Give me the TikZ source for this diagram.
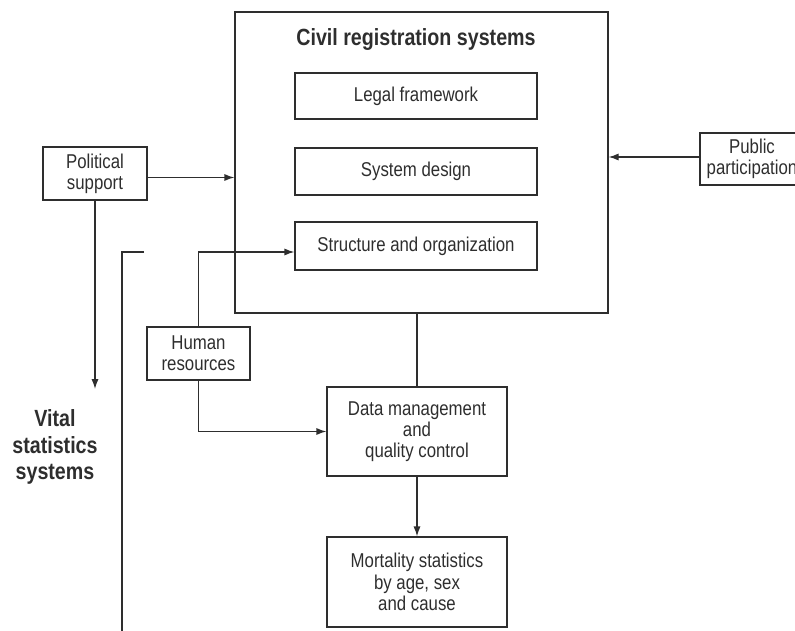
\documentclass[tikz,border=0pt]{standalone}
\usepackage{fontspec}
\setmainfont{Liberation Sans}[FakeStretch=0.84]
\usetikzlibrary{arrows.meta,calc}
\definecolor{inkgray}{HTML}{2E2E2E}

\begin{document}
\begin{tikzpicture}[x=0.5pt,y=-0.5pt, line width=0.65pt, color=inkgray,
  >={Latex[length=5pt,width=3.6pt]},
  box/.style={draw, align=center, inner sep=0pt, font=\fontsize{10}{10.6}\selectfont},
  heading/.style={align=center, font=\bfseries\fontsize{11.7}{13.3}\selectfont}]
\useasboundingbox (0,0) rectangle (795,630);

\node[box, minimum width=186.5pt, minimum height=150.5pt] (civil) at (421.5,162.5) {};
\node[heading, anchor=base] (title) at (416,46) {Civil registration systems};
\node[box, minimum width=121pt, minimum height=23pt] (legal) at (416,96) {Legal framework};
\node[box, minimum width=121pt, minimum height=23.5pt] (design) at (416,171.5) {System design};
\node[box, minimum width=121pt, minimum height=24pt] (structure) at (416,246) {Structure and organization};

\node[box, minimum width=52pt, minimum height=26.5pt] (political) at (95,173.5) {Political\\support};
\node[box, minimum width=52pt, minimum height=26pt] (public) at (752,159) {Public\\participation};
\node[box, minimum width=51.5pt, minimum height=26.5pt] (human) at (198.5,353.5) {Human\\resources};

\node[box, minimum width=90pt, minimum height=44.5pt] (data) at (417,431.5) {Data management\\and\\quality control};
\node[box, minimum width=90pt, minimum height=45pt] (mortality) at (417,582) {Mortality statistics\\by age, sex\\and cause};

\node[heading] (vital) at (55,447) {Vital\\statistics\\systems};

\coordinate (vsarrow) at (95,389);
\coordinate (vstop) at (144,252);
\coordinate (vsbottom) at (122,632);

\draw[->] ([yshift=-2pt]political.east) -- ([yshift=-2pt]political.east -| civil.west);
\draw[->] ([yshift=1pt]public.west) -- ([yshift=1pt]public.west -| civil.east);
\draw[->] (political.south) -- (vsarrow);
\draw (vstop) -| (vsbottom);
\draw[->] (human.north) |- ([yshift=-3pt]structure.west);
\draw[->] (human.south) |- (data.west);
\draw (civil.south -| data.north) -- (data.north);
\draw[->] (data.south) -- (mortality.north);
\end{tikzpicture}
\end{document}
